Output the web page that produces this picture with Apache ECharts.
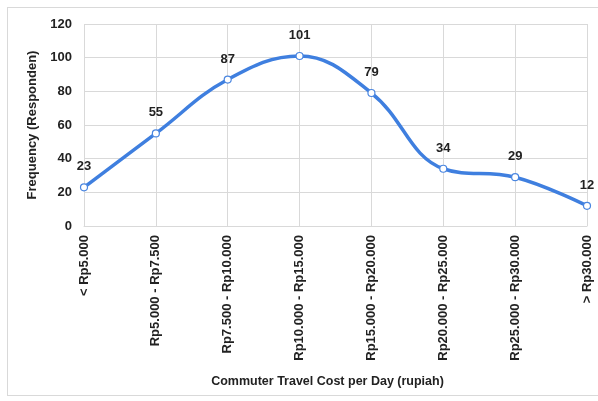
<!DOCTYPE html>
<html>
<head>
<meta charset="utf-8">
<script src="https://cdn.jsdelivr.net/npm/echarts@6/dist/echarts.min.js"></script>
<style>
  html, body { margin: 0; padding: 0; background: #fff; }
  #frame { position: absolute; left: 7px; top: 7px; width: 596px; height: 389px; border: 1px solid #d9d9d9; box-sizing: border-box; }
  #chart { width: 598px; height: 401px; position: absolute; left: 0; top: 0; }
</style>
</head>
<body>
<div id="frame"></div>
<div id="chart"></div>
<script>
// Daily commuter travel cost brackets and number of respondents in each
const categories = ['< Rp5.000', 'Rp5.000 - Rp7.500', 'Rp7.500 - Rp10.000', 'Rp10.000 - Rp15.000',
  'Rp15.000 - Rp20.000', 'Rp20.000 - Rp25.000', 'Rp25.000 - Rp30.000', '> Rp30.000'];
const frequency = [23, 55, 87, 101, 79, 34, 29, 12];
const yTicks = [0, 20, 40, 60, 80, 100, 120];

const font = "'Liberation Sans', Arial, sans-serif";
const chart = echarts.init(document.getElementById('chart'));
chart.setOption({
  animation: false,
  grid: { left: 84, right: 11, top: 24, bottom: 175, containLabel: false },
  xAxis: {
    type: 'category',
    data: categories,
    boundaryGap: false,
    name: 'Commuter Travel Cost per Day (rupiah)',
    nameLocation: 'middle',
    nameGap: 149,
    nameTextStyle: { fontFamily: font, fontWeight: 'bold', fontSize: 12.5, color: '#222', padding: [0, 16, 0, 0] },
    axisLine: { lineStyle: { color: '#d9d9d9' } },
    axisTick: { show: false },
    axisLabel: { rotate: 90, fontFamily: font, fontWeight: 'bold', fontSize: 13, color: '#222', margin: 9, interval: 0 },
    splitLine: { show: true, lineStyle: { color: '#d9d9d9' } }
  },
  yAxis: {
    type: 'value',
    min: yTicks[0],
    max: yTicks[yTicks.length - 1],
    interval: yTicks[1] - yTicks[0],
    name: 'Frequency (Responden)',
    nameLocation: 'middle',
    nameGap: 39,
    nameTextStyle: { fontFamily: font, fontWeight: 'bold', fontSize: 13, color: '#222' },
    axisLine: { show: false },
    axisTick: { show: false },
    axisLabel: { fontFamily: font, fontWeight: 'bold', fontSize: 13, color: '#222', margin: 12 },
    splitLine: { lineStyle: { color: '#d9d9d9' } }
  },
  series: [{
    type: 'line',
    data: frequency,
    smooth: 0.4,
    symbol: 'circle',
    symbolSize: 7,
    itemStyle: { color: '#fff', borderColor: '#4a86e0', borderWidth: 1.2 },
    lineStyle: { color: '#3f7fdf', width: 3.5 },
    label: { show: true, position: 'top', distance: 10, fontFamily: font, fontWeight: 'bold', fontSize: 13, color: '#222' }
  }]
});
</script>
</body>
</html>
